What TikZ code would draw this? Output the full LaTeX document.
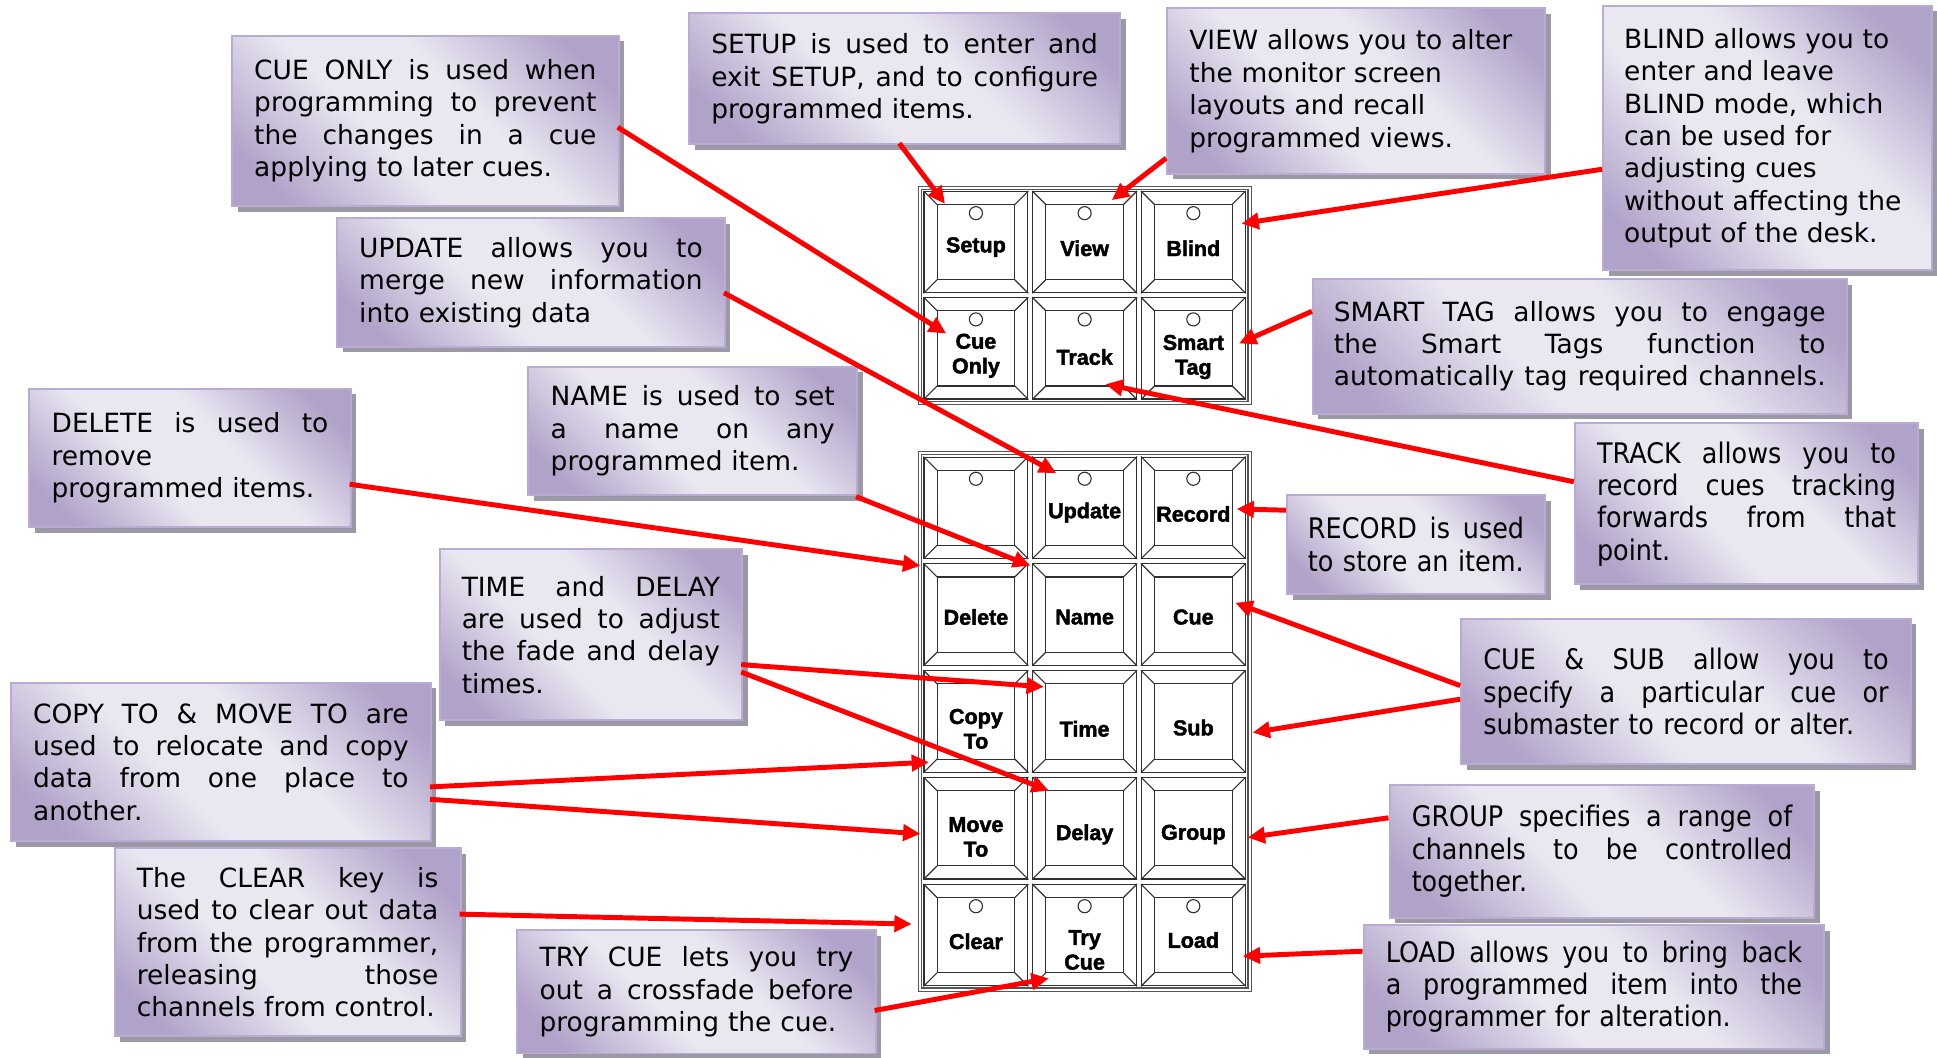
\documentclass[tikz,border=0pt]{standalone}
\usepackage{fontspec}
\setmainfont{DejaVu Sans}
\newfontfamily\condfont{DejaVu Sans}[FakeStretch=0.9]
\newfontfamily\keyfont{Liberation Sans}[BoldFeatures={FakeBold=2}]
\usetikzlibrary{arrows.meta,shadows,calc}
\definecolor{boxlight}{HTML}{EAE7F1}
\definecolor{boxdark}{HTML}{B1A2C9}
\definecolor{boxborder}{HTML}{B9ACD2}
\definecolor{shadowgray}{HTML}{9C98A6}
\definecolor{arrred}{HTML}{FF0000}
\definecolor{keyline}{HTML}{303030}
\definecolor{padgray}{HTML}{555555}
\pgfdeclareverticalshading{boxshade}{100bp}{color(0bp)=(boxdark); color(22bp)=(boxdark); color(42bp)=(boxlight); color(58bp)=(boxlight); color(78bp)=(boxdark); color(100bp)=(boxdark)}
\newcommand\jl[1]{\leavevmode\hbox to \hsize{\spaceskip=0.3em plus 1fil\relax #1}}
\tikzset{
  tbox/.style={rectangle, draw=boxborder, line width=1.6bp, shading=boxshade, shading angle=-45, general shadow={fill=shadowgray, shadow xshift=4.5bp, shadow yshift=-4.5bp}, inner xsep=18bp, inner ysep=0bp, align=left, anchor=north west, font=\fontsize{21.5}{26.3}\selectfont},
  cbox/.style={tbox, font=\condfont\fontsize{23}{26.3}\selectfont},
  keycap/.style={rectangle, draw=keyline, line width=0.9bp, fill=white, minimum width=84bp, minimum height=82bp, inner sep=0bp},
  keyln/.style={draw=keyline, line width=0.9bp},
  keylabel/.style={font=\keyfont\bfseries\fontsize{17.5}{20}\selectfont, align=center, inner sep=0bp, text=black},
  padframe/.style={rectangle, draw=padgray, line width=0.9bp, double=white, double distance=1.6bp, inner sep=0bp, fill=white},
  arr/.style={draw=arrred, line width=4bp, -{Triangle[length=14bp,width=13bp]}}
}
\newcommand\padkey[6]{%
  \node[keycap] (#1) at (#2,#3) {};
  \draw[keyln] ($(#1.north west)+(11bp,-11bp)$) rectangle ($(#1.south east)+(-11bp,11bp)$);
  \draw[keyln] (#1.north west) -- ++(11bp,-11bp) (#1.north east) -- ++(-11bp,-11bp) (#1.south west) -- ++(11bp,11bp) (#1.south east) -- ++(-11bp,11bp);
  \ifnum#5=1 \draw[keyln] ($(#1.north)+(0bp,-18bp)$) circle[radius=5.3bp];\fi
  \node[keylabel] (#1l) at ($(#1.center)+(0bp,-#6bp)$) {#4};
}
\begin{document}
\begin{tikzpicture}[x=1bp,y=-1bp]
\useasboundingbox (0,0) rectangle (1568,856);
\fill[white] (0,0) rectangle (1568,856);

% text boxes
\node[tbox, minimum width=313bp, minimum height=138bp, text width=277bp] (cueonly) at (187,28) {\jl{CUE ONLY is used when}\\\jl{programming to prevent}\\\jl{the changes in a cue}\\applying to later cues.};
\node[tbox, minimum width=349bp, minimum height=106bp, text width=313bp] (setup) at (557,10) {\jl{SETUP is used to enter and}\\\jl{exit SETUP, and to configure}\\programmed items.};
\node[tbox, minimum width=306bp, minimum height=134bp, text width=270bp] (view) at (944,6) {VIEW allows you to alter\\the monitor screen\\layouts and recall\\programmed views.};
\node[tbox, minimum width=266bp, minimum height=214bp, text width=232bp, inner xsep=17bp] (blind) at (1297,4) {BLIND allows you to\\enter and leave\\BLIND mode, which\\can be used for\\adjusting cues\\without affecting the\\output of the desk.};
\node[tbox, minimum width=314bp, minimum height=104bp, text width=278bp] (update) at (272,176) {\jl{UPDATE allows you to}\\\jl{merge new information}\\into existing data};
\node[tbox, minimum width=432bp, minimum height=109bp, text width=398bp, inner xsep=17bp] (smarttag) at (1062,225) {\jl{SMART TAG allows you to engage}\\\jl{the Smart Tags function to}\\\jl{automatically tag required channels.}};
\node[tbox, minimum width=260bp, minimum height=112bp, text width=224bp] (delete) at (23,314) {\jl{DELETE is used to}\\remove\\programmed items.};
\node[tbox, minimum width=266bp, minimum height=104bp, text width=230bp] (name) at (427,296) {\jl{NAME is used to set}\\\jl{a name on any}\\programmed item.};
\node[cbox, minimum width=209bp, minimum height=80bp, text width=175bp, inner xsep=17bp] (record) at (1041,400) {\jl{RECORD is used}\\to store an item.};
\node[cbox, minimum width=278bp, minimum height=130bp, text width=242bp] (track) at (1274,342) {\jl{TRACK allows you to}\\\jl{record cues tracking}\\\jl{forwards from that}\\point.};
\node[tbox, minimum width=245bp, minimum height=138bp, text width=209bp] (timedelay) at (355,444) {\jl{TIME and DELAY}\\\jl{are used to adjust}\\\jl{the fade and delay}\\times.};
\node[tbox, minimum width=340bp, minimum height=128bp, text width=304bp] (copyto) at (8,552) {\jl{COPY TO \& MOVE TO are}\\\jl{used to relocate and copy}\\\jl{data from one place to}\\another.};
\node[cbox, minimum width=364bp, minimum height=118bp, text width=328bp] (cuesub) at (1182,500) {\jl{CUE \& SUB allow you to}\\\jl{specify a particular cue or}\\submaster to record or alter.};
\node[tbox, minimum width=280bp, minimum height=152bp, text width=244bp] (clear) at (92,686) {\jl{The CLEAR key is}\\\jl{used to clear out data}\\\jl{from the programmer,}\\\jl{releasing those}\\channels from control.};
\node[tbox, minimum width=290bp, minimum height=100bp, text width=254bp] (trycue) at (418,752) {\jl{TRY CUE lets you try}\\\jl{out a crossfade before}\\programming the cue.};
\node[cbox, minimum width=344bp, minimum height=107bp, text width=308bp] (group) at (1124,635) {\jl{GROUP specifies a range of}\\\jl{channels to be controlled}\\together.};
\node[cbox, minimum width=373bp, minimum height=100bp, text width=337bp] (load) at (1103,748) {\jl{LOAD allows you to bring back}\\\jl{a programmed item into the}\\programmer for alteration.};

% keypads
\node[padframe, minimum width=267bp, minimum height=174bp] (pad1) at (878,239) {};
\node[padframe, minimum width=267bp, minimum height=434bp] (pad2) at (878,584) {};

\padkey{kSetup}{790}{196}{Setup}{1}{4}
\padkey{kView}{878}{196}{View}{1}{5}
\padkey{kBlind}{966}{196}{Blind}{1}{5}
\padkey{kCueOnly}{790}{282}{Cue\\Only}{1}{6}
\padkey{kTrack}{878}{282}{Track}{1}{7}
\padkey{kSmartTag}{966}{282}{Smart\\Tag}{1}{7}

\padkey{kBlank}{790}{411}{}{1}{4}
\padkey{kUpdate}{878}{411}{Update}{1}{4}
\padkey{kRecord}{966}{411}{Record}{1}{5}
\padkey{kDelete}{790}{497.5}{Delete}{0}{2}
\padkey{kName}{878}{497.5}{Name}{0}{2}
\padkey{kCue}{966}{497.5}{Cue}{0}{2}
\padkey{kCopyTo}{790}{584}{Copy\\To}{0}{6}
\padkey{kTime}{878}{584}{Time}{0}{6}
\padkey{kSub}{966}{584}{Sub}{0}{5}
\padkey{kMoveTo}{790}{670.5}{Move\\To}{0}{7}
\padkey{kDelay}{878}{670.5}{Delay}{0}{5}
\padkey{kGroup}{966}{670.5}{Group}{0}{5}
\padkey{kClear}{790}{757}{Clear}{1}{5}
\padkey{kTryCue}{878}{757}{Try\\Cue}{1}{12}
\padkey{kLoad}{966}{757}{Load}{1}{4}

% arrow ends
\coordinate (sSetup) at (728,116);   \coordinate (tSetup) at (765,165);
\coordinate (sView) at (944,128);    \coordinate (tView) at (900,162);
\coordinate (sBlind) at (1297,137);  \coordinate (tBlind) at (1005,181);
\coordinate (sCueOnly) at (500,103); \coordinate (tCueOnly) at (766,270);
\coordinate (sSmart) at (1062,252);  \coordinate (tSmart) at (1003,278);
\coordinate (sUpdate) at (586,237);  \coordinate (tUpdate) at (855,383);
\coordinate (sTrack) at (1274,390);  \coordinate (tTrack) at (895,311);
\coordinate (sDelete) at (283,392);  \coordinate (tDelete) at (745,458);
\coordinate (sName) at (693,402);    \coordinate (tName) at (834,458);
\coordinate (sRecord) at (1041,413); \coordinate (tRecord) at (1001,412);
\coordinate (sTime) at (600,538);    \coordinate (tTime) at (845,556);
\coordinate (sDelay) at (600,544);   \coordinate (tDelay) at (849,640);
\coordinate (sCue) at (1182,555);    \coordinate (tCue) at (1000,488);
\coordinate (sSub) at (1182,566);    \coordinate (tSub) at (1014,593);
\coordinate (sCopy) at (348,637);    \coordinate (tCopy) at (752,617);
\coordinate (sMove) at (348,647);    \coordinate (tMove) at (745,675);
\coordinate (sGroup) at (1124,662);  \coordinate (tGroup) at (1010,678);
\coordinate (sClear) at (372,740);   \coordinate (tClear) at (738,748);
\coordinate (sTry) at (708,818);     \coordinate (tTry) at (849,792);
\coordinate (sLoad) at (1103,770);   \coordinate (tLoad) at (1006,774);

\draw[arr] (sSetup) -- (tSetup);
\draw[arr] (sView) -- (tView);
\draw[arr] (sBlind) -- (tBlind);
\draw[arr] (sCueOnly) -- (tCueOnly);
\draw[arr] (sSmart) -- (tSmart);
\draw[arr] (sUpdate) -- (tUpdate);
\draw[arr] (sTrack) -- (tTrack);
\draw[arr] (sDelete) -- (tDelete);
\draw[arr] (sName) -- (tName);
\draw[arr] (sRecord) -- (tRecord);
\draw[arr] (sTime) -- (tTime);
\draw[arr] (sDelay) -- (tDelay);
\draw[arr] (sCue) -- (tCue);
\draw[arr] (sSub) -- (tSub);
\draw[arr] (sCopy) -- (tCopy);
\draw[arr] (sMove) -- (tMove);
\draw[arr] (sGroup) -- (tGroup);
\draw[arr] (sClear) -- (tClear);
\draw[arr] (sTry) -- (tTry);
\draw[arr] (sLoad) -- (tLoad);
\end{tikzpicture}
\end{document}
